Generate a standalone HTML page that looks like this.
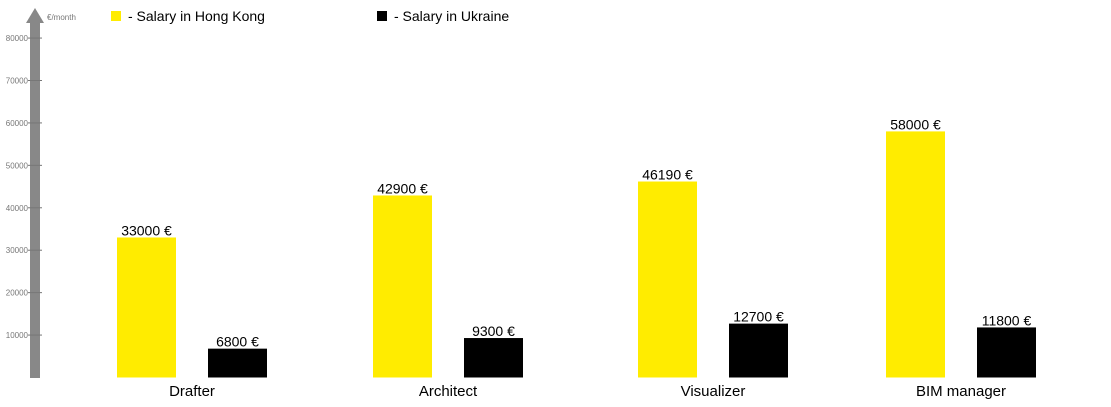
<!DOCTYPE html>
<html><head><meta charset="utf-8"><style>
body{margin:0;background:#fff;font-family:"Liberation Sans",sans-serif}
</style></head><body>
<svg id="c" width="1111" height="402" xmlns="http://www.w3.org/2000/svg" font-family="Liberation Sans, sans-serif"></svg>
<script>
const categories=["Drafter","Architect","Visualizer","BIM manager"];
const hongKong=[33000,42900,46190,58000];
const ukraine=[6800,9300,12700,11800];
const ticks=[10000,20000,30000,40000,50000,60000,70000,80000];
const svg=document.getElementById('c');
const NS="http://www.w3.org/2000/svg";
function mk(t,a,p){const e=document.createElementNS(NS,t);for(const k in a)e.setAttribute(k,a[k]);(p||svg).appendChild(e);return e;}
const y0=377.5,per=42.43/10000;
const y=v=>y0-v*per;
const groupX=[117,373,638,886];
const bw=59,gap=91;
// axis
let ax=mk('rect',{x:30,y:22,width:10,height:356,fill:'#888'});

let ah=mk('polygon',{points:'35,8 26,23 44,23',fill:'#888'});

let ut=mk('text',{x:47,y:20,'font-size':8,fill:'#777'});ut.textContent='€/month';

ticks.forEach(t=>{
 let l=mk('line',{x1:28,x2:42,y1:y(t),y2:y(t),stroke:'#777','stroke-width':1});
 
 let tx=mk('text',{x:28,y:y(t)+3,'font-size':8,fill:'#777','text-anchor':'end'});tx.textContent=t;
 
});
// legend
let l1=mk('rect',{x:111,y:11,width:10,height:10,fill:'#ffec00'});

let lt1=mk('text',{x:128,y:21,'font-size':14,fill:'#000'});lt1.textContent='- Salary in Hong Kong';

let l2=mk('rect',{x:377,y:11,width:10,height:10,fill:'#000'});

let lt2=mk('text',{x:394,y:21,'font-size':14,fill:'#000'});lt2.textContent='- Salary in Ukraine';

categories.forEach((c,i)=>{
 const gx=groupX[i];
 [[hongKong[i],gx,'#ffec00','hong-kong'],[ukraine[i],gx+gap,'#000','ukraine']].forEach(([v,x,col,n])=>{
  let b=mk('rect',{x:x,y:y(v),width:bw,height:y0-y(v),fill:col});
  
  let t=mk('text',{x:x+bw/2,y:y(v)-2,'font-size':14,fill:'#000','text-anchor':'middle'});t.textContent=v+' €';
  
 });
 let cl=mk('text',{x:gx+(bw+gap)/2,y:396,'font-size':15,fill:'#000','text-anchor':'middle'});cl.textContent=c;
 
});
</script>
</body></html>
